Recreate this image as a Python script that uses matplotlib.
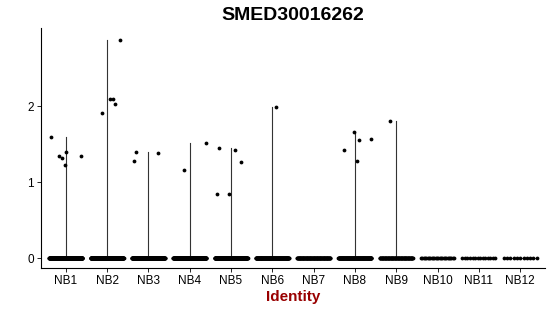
import numpy as np
import matplotlib
matplotlib.use('Agg')
import matplotlib.pyplot as plt

plt.rcParams['font.family'] = ['Liberation Sans', 'DejaVu Sans']

clusters = ['NB1', 'NB2', 'NB3', 'NB4', 'NB5', 'NB6',
            'NB7', 'NB8', 'NB9', 'NB10', 'NB11', 'NB12']

# approximate number of cells with zero expression in each cluster
zero_counts = [300, 260, 220, 220, 200, 170, 110, 160, 90, 26, 14, 11]

# cells with non-zero expression: cluster index, value, jitter offset
nz_cluster = [0, 0, 0, 0, 0, 0,
              1, 1, 1, 1, 1,
              2, 2, 2,
              3, 3,
              4, 4, 4, 4, 4,
              5,
              7, 7, 7, 7, 7,
              8]
nz_value = [1.60, 1.35, 1.32, 1.22, 1.40, 1.34,
            1.91, 2.10, 2.10, 2.03, 2.87,
            1.285, 1.40, 1.39,
            1.16, 1.51,
            1.447, 0.84, 0.85, 1.43, 1.26,
            1.99,
            1.43, 1.66, 1.55, 1.28, 1.57,
            1.80]
nz_jitter = [-0.36, -0.16, -0.10, -0.03, 0.00, 0.37,
             -0.13, 0.07, 0.145, 0.19, 0.32,
             -0.36, -0.29, 0.23,
             -0.15, 0.39,
             -0.29, -0.35, -0.06, 0.10, 0.25,
             0.08,
             -0.27, -0.03, 0.10, 0.04, 0.38,
             -0.15]

fig = plt.figure(figsize=(5.5, 3.16), dpi=100)
ax = fig.add_axes([41 / 550, 48 / 316, 504 / 550, 240 / 316])

x = np.arange(1, len(clusters) + 1)
nz_cluster = np.array(nz_cluster)
nz_value = np.array(nz_value)
nz_jitter = np.array(nz_jitter)

# violin outlines (collapsed to a spike because most cells are zero)
for i, xc in enumerate(x):
    vals = nz_value[nz_cluster == i]
    top = vals.max() if len(vals) else 0
    ax.plot([xc - 0.42, xc + 0.42], [0, 0], color='black', lw=0.5, zorder=1)
    if top > 0:
        ax.plot([xc, xc], [0, top], color='#333333', lw=0.8, zorder=1)

# jittered zero cells
for i, xc in enumerate(x):
    n = zero_counts[i]
    offs = np.linspace(-0.4, 0.4, n)
    ax.scatter(xc + offs, np.zeros(n), s=7.5, color='black', lw=0, zorder=2)

ax.scatter(x[nz_cluster] + nz_jitter, nz_value, s=7.5, color='black', lw=0, zorder=3)

ax.set_xlim(0.4, 12.6)
ax.set_ylim(-0.13, 3.03)
ax.set_xticks(x)
ax.set_xticklabels(clusters)
ax.set_yticks([0, 1, 2])
ax.tick_params(labelsize=8.5, length=3, width=0.6, colors='black', pad=2)
for s in ['top', 'right']:
    ax.spines[s].set_visible(False)
for s in ['left', 'bottom']:
    ax.spines[s].set_linewidth(0.8)

ax.set_title('SMED30016262', fontsize=14, fontweight='bold', pad=6)
ax.set_xlabel('Identity', fontsize=11, fontweight='bold', color='#990000', labelpad=2)

fig.savefig('out.png', dpi=100)
